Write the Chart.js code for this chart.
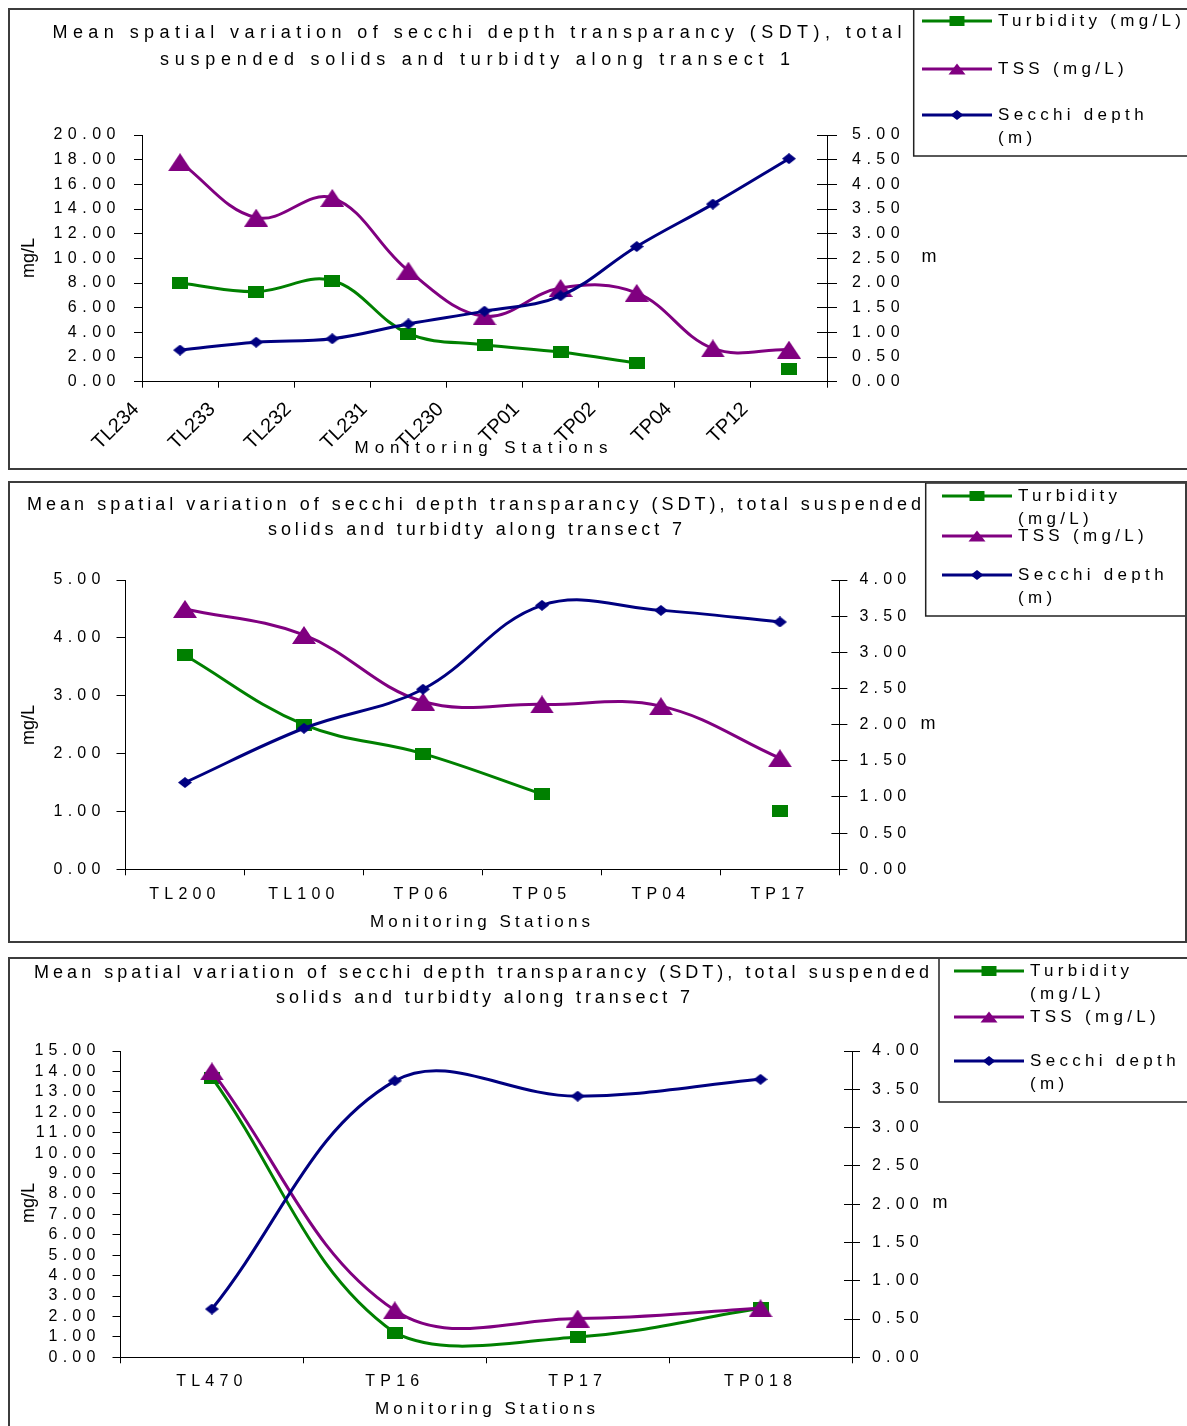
<!DOCTYPE html>
<html>
<head>
<meta charset="utf-8">
<script src="https://cdn.jsdelivr.net/npm/chart.js@4.4.1/dist/chart.umd.min.js"></script>
<style>
  html, body { margin: 0; padding: 0; background: #fff; overflow: hidden; width: 1187px; height: 1426px; }
  .panel { position: absolute; border: 2px solid #3c3c3c; box-sizing: border-box; background: #fff; }
  .panel canvas { display: block; }
</style>
</head>
<body>
<div class="panel" style="left:8px;top:8px;width:1185px;height:462px"><canvas id="c1" width="1181" height="458"></canvas></div>
<div class="panel" style="left:8px;top:481px;width:1179px;height:462px"><canvas id="c2" width="1175" height="458"></canvas></div>
<div class="panel" style="left:8px;top:957px;width:1185px;height:480px"><canvas id="c3" width="1181" height="476"></canvas></div>

<script>
// transect 1
const t1Stations = ['TL234', 'TL233', 'TL232', 'TL231', 'TL230', 'TP01', 'TP02', 'TP04', 'TP12'];
const t1Turbidity = [8.0, 7.3, 8.2, 3.9, 3.0, 2.4, 1.5, null, 1.0];
const t1Tss = [17.8, 13.3, 14.9, 9.0, 5.3, 7.6, 7.2, 2.7, 2.6];
const t1Secchi = [0.64, 0.80, 0.87, 1.17, 1.43, 1.74, 2.74, 3.60, 4.52];

// transect 7 (first chart)
const t7aStations = ['TL200', 'TL100', 'TP06', 'TP05', 'TP04', 'TP17'];
const t7aTurbidity = [3.7, 2.5, 2.0, 1.3, null, 1.0];
const t7aTss = [4.5, 4.05, 2.9, 2.85, 2.82, 1.92];
const t7aSecchi = [1.2, 1.95, 2.49, 3.65, 3.58, 3.42];

// transect 7 (second chart)
const t7bStations = ['TL470', 'TP16', 'TP17', 'TP018'];
const t7bTurbidity = [13.7, 1.2, 1.0, 2.4];
const t7bTss = [14.0, 2.3, 1.9, 2.4];
const t7bSecchi = [0.63, 3.61, 3.41, 3.63];

const titleT1 = ['Mean spatial variation of secchi depth transparancy (SDT), total',
                 'suspended solids and turbidty along transect 1'];
const titleT7 = ['Mean spatial variation of secchi depth transparancy (SDT), total suspended',
                 'solids and turbidty along transect 7'];
const xTitleText = 'Monitoring Stations';
const yTitleText = 'mg/L';
const y1TitleText = 'm';

const FONT = '"Liberation Sans", Arial, Helvetica, sans-serif';
Chart.defaults.font.family = FONT;
Chart.defaults.font.size = 16;
Chart.defaults.color = '#000';

const seriesStyle = [
  { label: 'Turbidity (mg/L)', color: '#008000', shape: 'square', axis: 'y', size: [16, 12], legendSize: [15, 10] },
  { label: 'TSS (mg/L)', color: '#800080', shape: 'triangle', axis: 'y', size: [24, 18], legendSize: [17, 11] },
  { label: 'Secchi depth (m)', color: '#000080', shape: 'diamond', axis: 'y1', size: [14, 11], legendSize: [13, 10] },
];

function pathMarker(g, shape, cx, cy, w, h) {
  g.beginPath();
  if (shape === 'square') {
    g.rect(cx - w / 2, cy - h / 2, w, h);
  } else if (shape === 'triangle') {
    g.moveTo(cx, cy - h / 2);
    g.lineTo(cx + w / 2, cy + h / 2);
    g.lineTo(cx - w / 2, cy + h / 2);
    g.closePath();
  } else {
    g.moveTo(cx, cy - h / 2);
    g.lineTo(cx + w / 2, cy);
    g.lineTo(cx, cy + h / 2);
    g.lineTo(cx - w / 2, cy);
    g.closePath();
  }
}

function markerImage(s) {
  const c = document.createElement('canvas');
  c.width = s.size[0];
  c.height = s.size[1];
  const g = c.getContext('2d');
  g.fillStyle = s.color;
  pathMarker(g, s.shape, c.width / 2, c.height / 2, c.width, c.height);
  g.fill();
  return c;
}

function makeDatasets(values, toPoint) {
  return seriesStyle.map((s, k) => ({
    label: s.label,
    data: values[k].map(toPoint),
    yAxisID: s.axis,
    borderColor: s.color,
    backgroundColor: s.color,
    borderWidth: 3,
    tension: 0.38,
    pointStyle: markerImage(s),
    pointRadius: 6,
    pointHoverRadius: 6,
    spanGaps: false,
    clip: false,
    order: 3 - k,
  }));
}

function yScale(pos, max, step, tickLen, pad, width) {
  return {
    type: 'linear', position: pos, min: 0, max: max,
    ticks: { stepSize: step, padding: pad, autoSkip: false, color: '#000', callback: v => Number(v).toFixed(2) },
    grid: { drawOnChartArea: false, tickLength: tickLen, color: '#000', tickColor: '#000' },
    border: { color: '#000', width: 1 },
    afterFit: s => { s.width = width; },
  };
}

function categoryX(tickLen, pad, height) {
  return {
    type: 'category', offset: true,
    ticks: { padding: pad, autoSkip: false, maxRotation: 0, color: '#000' },
    grid: { offset: true, drawOnChartArea: false, tickLength: tickLen, color: '#000', tickColor: '#000' },
    border: { color: '#000', width: 1 },
    afterFit: s => { s.height = height; },
  };
}

// page coordinates of each panel's pieces; origin = inner top-left of the panel
const layouts = {
  c1: {
    origin: [10, 10], size: [1181, 458], area: { l: 142, r: 827, t: 135, b: 381.7 }, xH: 80,
    title: [{ text: titleT1[0], cx: 477, cy: 33, w: 849 }, { text: titleT1[1], cx: 475, cy: 60, w: 630 }],
    legend: { box: { l: 913.7, t: 8, r: 1200, b: 156 }, lineX: [922, 992], textX: 998, rows: [21, 69, 115], lineH: 23, maxW: 192 },
    yTitle: { cx: 29, cy: 258 }, y1Title: { cx: 929, cy: 257 }, xTitle: { cx: 481, cy: 448, w: 253 },
    tickSpacing: 5.5, innerTick: 10, plainX: true,
  },
  c2: {
    origin: [10, 483], size: [1175, 458], area: { l: 125.5, r: 839.4, t: 580, b: 869.3 }, xH: 40,
    title: [{ text: titleT7[0], cx: 474, cy: 505, w: 894 }, { text: titleT7[1], cx: 475, cy: 530, w: 414 }],
    legend: { box: { l: 925.7, t: 483, r: 1186, b: 616 }, lineX: [942, 1012], textX: 1018, rows: [496, 536, 575], lineH: 23, maxW: 162 },
    yTitle: { cx: 29, cy: 725 }, y1Title: { cx: 928, cy: 724 }, xTitle: { cx: 480, cy: 922, w: 220 },
    tickSpacing: 5.2, innerTick: 8, plainX: false,
  },
  c3: {
    origin: [10, 959], size: [1181, 476], area: { l: 120.5, r: 852, t: 1051, b: 1357.3 }, xH: 40,
    title: [{ text: titleT7[0], cx: 481.5, cy: 973, w: 895 }, { text: titleT7[1], cx: 483, cy: 998, w: 414 }],
    legend: { box: { l: 939, t: 957, r: 1200, b: 1102 }, lineX: [954, 1024], textX: 1030, rows: [971, 1017, 1061], lineH: 23, maxW: 155 },
    yTitle: { cx: 29, cy: 1203 }, y1Title: { cx: 940, cy: 1203 }, xTitle: { cx: 485, cy: 1409, w: 220 },
    tickSpacing: 5.2, innerTick: 8, plainX: false,
  },
};

function areaPadding(L) {
  const [ox, oy] = L.origin;
  return {
    left: L.area.l - ox - 90,
    right: L.size[0] - (L.area.r - ox) - 90,
    top: L.area.t - oy,
    bottom: L.size[1] - (L.area.b - oy) - L.xH,
  };
}

function fitText(ctx, text, x, y, width) {
  ctx.letterSpacing = '0px';
  const w0 = ctx.measureText(text).width;
  const sp = text.length > 1 ? (width - w0) / (text.length - 1) : 0;
  ctx.letterSpacing = sp + 'px';
  ctx.textAlign = 'left';
  ctx.fillText(text, x - width / 2, y);
  ctx.letterSpacing = '0px';
}

function wrapLines(ctx, text, maxW) {
  const words = text.split(' ');
  const lines = [];
  let cur = '';
  words.forEach(w => {
    const test = cur ? cur + ' ' + w : w;
    if (cur && ctx.measureText(test).width > maxW) {
      lines.push(cur);
      cur = w;
    } else {
      cur = test;
    }
  });
  if (cur) lines.push(cur);
  return lines;
}

const decor = {
  id: 'decor',
  afterUpdate(chart) {
    const L = layouts[chart.canvas.id];
    const sx = chart.scales.x;
    if (L.plainX && sx && !sx._plainLabels) {
      const draw = sx.drawLabels;
      sx.drawLabels = function (area) {
        const prev = this.ctx.letterSpacing;
        this.ctx.letterSpacing = '0px';
        draw.call(this, area);
        this.ctx.letterSpacing = prev;
      };
      sx._plainLabels = true;
    }
  },
  beforeDraw(chart) {
    chart.ctx.letterSpacing = layouts[chart.canvas.id].tickSpacing + 'px';
  },
  afterDraw(chart) {
    const L = layouts[chart.canvas.id];
    const [ox, oy] = L.origin;
    const ctx = chart.ctx;
    ctx.save();
    ctx.letterSpacing = '0px';

    // right axis ticks cross the axis line
    const s = chart.scales.y1;
    ctx.strokeStyle = '#000';
    ctx.lineWidth = 1;
    ctx.beginPath();
    s.ticks.forEach((t, i) => {
      const py = Math.round(s.getPixelForTick(i) - 0.5) + 0.5;
      ctx.moveTo(s.left, py);
      ctx.lineTo(s.left - L.innerTick, py);
    });
    ctx.stroke();

    ctx.fillStyle = '#000';
    ctx.textBaseline = 'middle';

    // title
    ctx.font = '18px ' + FONT;
    L.title.forEach(t => fitText(ctx, t.text, t.cx - ox, t.cy - oy, t.w));

    // axis titles
    ctx.font = '18px ' + FONT;
    ctx.textAlign = 'center';
    ctx.save();
    ctx.translate(L.yTitle.cx - ox, L.yTitle.cy - oy);
    ctx.rotate(-Math.PI / 2);
    ctx.fillText(yTitleText, 0, 0);
    ctx.restore();
    ctx.textAlign = 'center';
    ctx.fillText(y1TitleText, L.y1Title.cx - ox, L.y1Title.cy - oy);
    ctx.font = '17px ' + FONT;
    fitText(ctx, xTitleText, L.xTitle.cx - ox, L.xTitle.cy - oy, L.xTitle.w);

    // legend
    const lg = L.legend;
    ctx.strokeStyle = '#222';
    ctx.lineWidth = 1.5;
    ctx.strokeRect(lg.box.l - ox, lg.box.t - oy, lg.box.r - lg.box.l, lg.box.b - lg.box.t);
    chart.data.datasets.forEach((ds, k) => {
      const st = seriesStyle[k];
      const y = lg.rows[k] - oy;
      ctx.strokeStyle = st.color;
      ctx.lineWidth = 3;
      ctx.beginPath();
      ctx.moveTo(lg.lineX[0] - ox, y);
      ctx.lineTo(lg.lineX[1] - ox, y);
      ctx.stroke();
      ctx.fillStyle = st.color;
      pathMarker(ctx, st.shape, (lg.lineX[0] + lg.lineX[1]) / 2 - ox, y, st.legendSize[0], st.legendSize[1]);
      ctx.fill();
      ctx.fillStyle = '#000';
      ctx.font = '17px ' + FONT;
      ctx.letterSpacing = '4.3px';
      ctx.textAlign = 'left';
      wrapLines(ctx, ds.label, lg.maxW).forEach((line, j) => {
        ctx.fillText(line, lg.textX - ox, y + j * lg.lineH);
      });
      ctx.letterSpacing = '0px';
    });
    ctx.restore();
  },
};

function baseOptions(id, scales) {
  return {
    responsive: false,
    devicePixelRatio: 1,
    animation: false,
    events: [],
    layout: { padding: areaPadding(layouts[id]) },
    plugins: { legend: { display: false }, title: { display: false }, tooltip: { enabled: false } },
    scales: scales,
  };
}

// chart 1: labels sit on the tick marks, points sit between them
new Chart(document.getElementById('c1'), {
  type: 'line',
  data: {
    datasets: makeDatasets([t1Turbidity, t1Tss, t1Secchi], (v, i) => ({ x: i + 0.5, y: v })),
  },
  options: baseOptions('c1', {
    x: {
      type: 'linear', min: 0, max: t1Stations.length,
      ticks: {
        stepSize: 1, autoSkip: false, minRotation: 45, maxRotation: 45, padding: 10, labelOffset: -6,
        font: { size: 20 }, color: '#000',
        callback: v => t1Stations[v] ?? '',
      },
      grid: { drawOnChartArea: false, tickLength: 6, color: '#000', tickColor: '#000' },
      border: { color: '#000', width: 1 },
      afterFit: s => { s.height = layouts.c1.xH; },
    },
    y: yScale('left', 20, 2, 8, 13, 90),
    y1: yScale('right', 5, 0.5, 10, 15, 90),
  }),
  plugins: [decor],
});

new Chart(document.getElementById('c2'), {
  type: 'line',
  data: {
    labels: t7aStations,
    datasets: makeDatasets([t7aTurbidity, t7aTss, t7aSecchi], v => v),
  },
  options: baseOptions('c2', {
    x: categoryX(6, 10, layouts.c2.xH),
    y: yScale('left', 5, 1, 9, 11, 90),
    y1: yScale('right', 4, 0.5, 8, 12, 90),
  }),
  plugins: [decor],
});

new Chart(document.getElementById('c3'), {
  type: 'line',
  data: {
    labels: t7bStations,
    datasets: makeDatasets([t7bTurbidity, t7bTss, t7bSecchi], v => v),
  },
  options: baseOptions('c3', {
    x: categoryX(6, 9, layouts.c3.xH),
    y: yScale('left', 15, 1, 8, 12, 90),
    y1: yScale('right', 4, 0.5, 8, 12, 90),
  }),
  plugins: [decor],
});
</script>
</body>
</html>
